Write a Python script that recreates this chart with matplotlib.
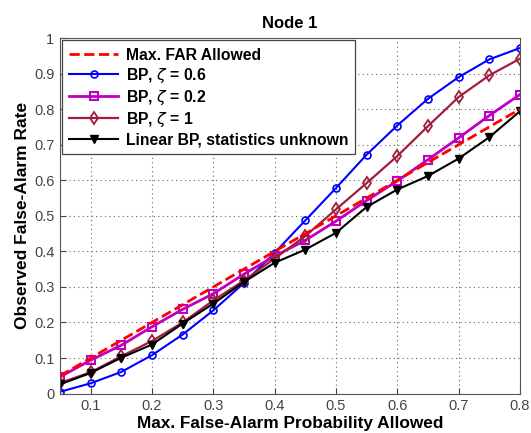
import numpy as np
import matplotlib
matplotlib.use('Agg')
import matplotlib.pyplot as plt

plt.rcParams['font.family'] = ['Liberation Sans', 'DejaVu Sans']

# données
far_allowed = [0.05, 0.1, 0.15, 0.2, 0.25, 0.3, 0.35, 0.4,
               0.45, 0.5, 0.55, 0.6, 0.65, 0.7, 0.75, 0.8]
bp_06 = [0.005, 0.029, 0.061, 0.108, 0.166, 0.234, 0.311, 0.396,
         0.487, 0.578, 0.672, 0.754, 0.829, 0.89, 0.94, 0.972]
bp_02 = [0.047, 0.094, 0.136, 0.188, 0.237, 0.281, 0.336, 0.387,
         0.431, 0.485, 0.543, 0.598, 0.658, 0.719, 0.782, 0.841]
bp_1 = [0.03, 0.06, 0.105, 0.148, 0.2, 0.262, 0.318, 0.38,
        0.443, 0.518, 0.592, 0.668, 0.752, 0.834, 0.895, 0.942]
linear_bp = [0.026, 0.058, 0.101, 0.138, 0.197, 0.253, 0.314, 0.368,
             0.405, 0.452, 0.525, 0.574, 0.612, 0.661, 0.721, 0.794]

labels = ['Max. FAR Allowed',
          r'BP, $\zeta$ = 0.6',
          r'BP, $\zeta$ = 0.2',
          r'BP, $\zeta$ = 1',
          'Linear BP, statistics unknown']
xticks = [0.1, 0.2, 0.3, 0.4, 0.5, 0.6, 0.7, 0.8]
yticks = [0, 0.1, 0.2, 0.3, 0.4, 0.5, 0.6, 0.7, 0.8, 0.9, 1]

fig = plt.figure(figsize=(5.31, 4.33), dpi=100)
ax = fig.add_axes([0.113, 0.091, 0.866, 0.821])

ax.plot(far_allowed, far_allowed, '--', color='#FF0000', lw=2, label=labels[0], zorder=5)
ax.plot(far_allowed, bp_06, '-o', color='#0000FF', lw=1.5, ms=5, mfc='none', mew=1.2, label=labels[1])
ax.plot(far_allowed, bp_02, '-s', color='#C000C0', lw=2, ms=5.5, mfc='none', mew=1.5, label=labels[2])
ax.plot(far_allowed, bp_1, '-d', color='#A01E3C', lw=1.6, ms=6, mfc='none', mew=1.3, label=labels[3])
ax.plot(far_allowed, linear_bp, '-v', color='black', lw=1.5, ms=6, label=labels[4])

ax.set_xlim(0.05, 0.8)
ax.set_ylim(0, 1)
ax.set_xticks(xticks)
ax.set_yticks(yticks)
ax.set_yticklabels(['0' if t == 0 else ('1' if t == 1 else str(t)) for t in yticks])
ax.tick_params(direction='in', labelsize=10.5, labelcolor='#444444', color='#444444', length=4, pad=4)
for s in ax.spines.values():
    s.set_color('#555555')
ax.grid(True, linestyle=(0, (1, 3)), color='#666666', lw=0.8)

ax.set_title('Node 1', fontsize=12, fontweight='bold', pad=7)
ax.set_xlabel('Max. False-Alarm Probability Allowed', fontsize=12.4, fontweight='bold', labelpad=2)
ax.set_ylabel('Observed False-Alarm Rate', fontsize=12.5, fontweight='bold', labelpad=3)

leg = ax.legend(loc='upper left', numpoints=1, fancybox=False, framealpha=1,
                edgecolor='#444444', prop={'weight': 'bold', 'size': 11.3},
                handlelength=3.1, borderaxespad=0.15, labelspacing=0.2,
                handletextpad=0.5, borderpad=0.45)
leg.get_frame().set_linewidth(0.9)

fig.savefig('out.png', dpi=100)
